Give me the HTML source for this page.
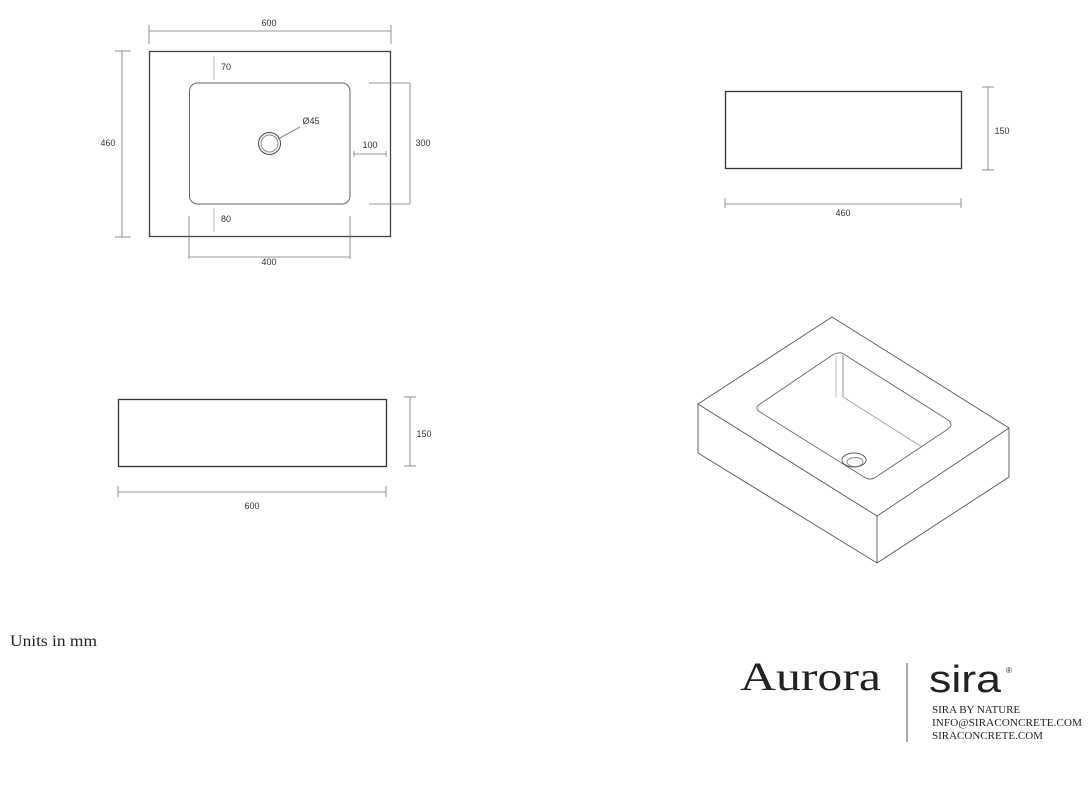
<!DOCTYPE html>
<html><head><style>
body{margin:0;background:#fff;width:1089px;height:800px;overflow:hidden}
svg{position:absolute;left:0;top:0}
.d{font-family:"Liberation Sans",sans-serif;font-size:9px;fill:#333}
</style></head><body>
<svg width="1089" height="800" viewBox="0 0 1089 800">
<g fill="none" stroke="#444" stroke-width="1">
<rect x="149.5" y="51.5" width="241" height="185" stroke-width="1.3"/>
<rect x="189.5" y="83" width="160.5" height="121" rx="8" stroke="#666"/>
<circle cx="269.5" cy="143.5" r="11"/>
<circle cx="269.5" cy="143.5" r="8.5" stroke="#888"/>
<line x1="278" y1="139" x2="300" y2="127" stroke="#888"/>
</g>
<g fill="none" stroke="#777" stroke-width="0.8">
<line x1="149" y1="31" x2="391" y2="31"/><line x1="149" y1="25" x2="149" y2="44"/><line x1="391" y1="25" x2="391" y2="44"/>
<line x1="122" y1="51" x2="122" y2="237"/><line x1="115" y1="51" x2="131" y2="51"/><line x1="115" y1="237" x2="131" y2="237"/>
<line x1="214" y1="56" x2="214" y2="80" stroke="#aaa"/>
<line x1="214" y1="208" x2="214" y2="232" stroke="#aaa"/>
<line x1="354" y1="154" x2="386" y2="154"/><line x1="354" y1="151" x2="354" y2="157"/><line x1="386" y1="151" x2="386" y2="157"/>
<line x1="410" y1="83" x2="410" y2="204"/><line x1="369" y1="83" x2="410" y2="83"/><line x1="369" y1="204" x2="410" y2="204"/>
<line x1="189" y1="257" x2="350" y2="257"/><line x1="189" y1="216" x2="189" y2="259"/><line x1="350" y1="216" x2="350" y2="259"/>
<line x1="988" y1="87" x2="988" y2="170"/><line x1="982" y1="87" x2="994" y2="87"/><line x1="982" y1="170" x2="994" y2="170"/>
<line x1="725" y1="204" x2="961" y2="204"/><line x1="725" y1="198" x2="725" y2="208"/><line x1="961" y1="198" x2="961" y2="208"/>
<line x1="410" y1="397" x2="410" y2="466"/><line x1="404" y1="397" x2="416" y2="397"/><line x1="404" y1="466" x2="416" y2="466"/>
<line x1="118" y1="492" x2="386" y2="492"/><line x1="118" y1="486" x2="118" y2="497"/><line x1="386" y1="486" x2="386" y2="497"/>
</g>
<g fill="none" stroke="#333" stroke-width="1.3">
<rect x="725.5" y="91.5" width="236" height="77"/>
<rect x="118.5" y="399.5" width="268" height="67"/>
</g>
<g fill="none" stroke="#555" stroke-width="0.9">
<polygon points="832,317 1009,428 877,516 698,404"/>
<polyline points="698,404 698,453 877,563 1009,477 1009,428"/>
<line x1="877" y1="516" x2="877" y2="563"/>
<path d="M842,353 L948,420 Q954,425 948,429 L876,477 Q870,481 864,477 L760,412 Q754,408 760,404 L831,356 Q836,352 842,353 Z" stroke="#666"/>
<line x1="836" y1="356" x2="836" y2="397" stroke="#bbb"/>
<line x1="843" y1="355" x2="843" y2="397" stroke="#888"/>
<line x1="843" y1="397" x2="922" y2="447" stroke="#999"/>
<ellipse cx="854" cy="460" rx="12" ry="7"/>
<ellipse cx="855" cy="462" rx="8" ry="4.5" stroke="#888"/>
</g>
<g class="d" text-anchor="middle">
<text x="269" y="26">600</text>
<text x="108" y="146">460</text>
<text x="226" y="70">70</text>
<text x="226" y="222">80</text>
<text x="370" y="148">100</text>
<text x="423" y="146">300</text>
<text x="269" y="265">400</text>
<text x="311" y="124">Ø45</text>
<text x="1002" y="134">150</text>
<text x="843" y="216">460</text>
<text x="424" y="437">150</text>
<text x="252" y="509">600</text>
</g>
<text x="10" y="646" font-family="Liberation Serif,serif" font-size="16" fill="#222" textLength="87" lengthAdjust="spacingAndGlyphs">Units in mm</text>
<text x="740" y="690" font-family="Liberation Serif,serif" font-size="40" fill="#222" textLength="141" lengthAdjust="spacingAndGlyphs">Aurora</text>
<line x1="907" y1="663" x2="907" y2="742" stroke="#555" stroke-width="1"/>
<text x="929" y="692" font-family="Liberation Sans,sans-serif" font-size="38" fill="#222" textLength="72" lengthAdjust="spacingAndGlyphs">sira</text>
<text x="1006" y="673" font-family="Liberation Sans,sans-serif" font-size="8" fill="#222">®</text>
<g font-family="Liberation Serif,serif" font-size="11" fill="#222">
<text x="932" y="713">SIRA BY NATURE</text>
<text x="932" y="726" textLength="150" lengthAdjust="spacingAndGlyphs">INFO@SIRACONCRETE.COM</text>
<text x="932" y="739">SIRACONCRETE.COM</text>
</g>
</svg>
</body></html>
